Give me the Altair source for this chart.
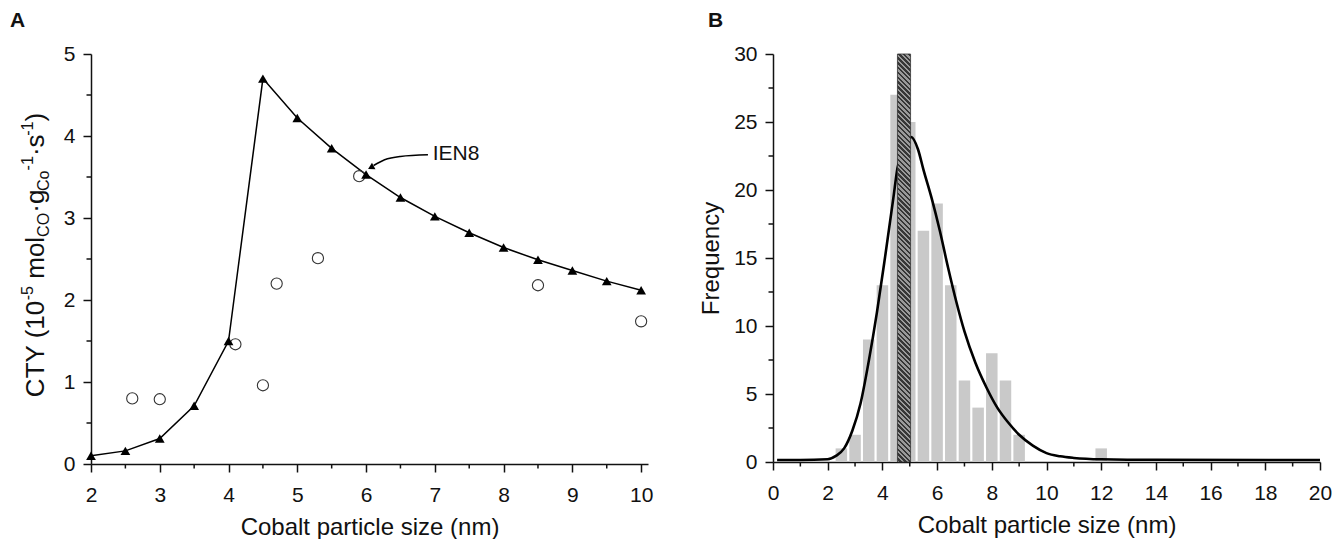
import altair as alt
import pandas as pd

FONT = "Liberation Sans"
INK = "#111111"

# ---------------- Panel A data ----------------
model_size = [2, 2.5, 3, 3.5, 4, 4.5, 5, 5.5, 6, 6.5, 7, 7.5, 8, 8.5, 9, 9.5, 10]
model_cty = [0.10, 0.16, 0.31, 0.71, 1.50, 4.70, 4.22, 3.85, 3.53, 3.25, 3.02,
             2.82, 2.64, 2.49, 2.36, 2.23, 2.12]
exp_size = [2.6, 3.0, 4.1, 4.5, 4.7, 5.3, 5.9, 8.5, 10.0]
exp_cty = [0.80, 0.79, 1.46, 0.96, 2.20, 2.51, 3.51, 2.18, 1.74]

label_text = ["IEN8"]
label_x = [6.97]
label_y = [3.78]
arrow_x = [6.90, 6.50, 6.27, 6.11]
arrow_y = [3.77, 3.75, 3.71, 3.64]
arrow_tip_x = [6.07]
arrow_tip_y = [3.615]

a_x_ticks = [2, 3, 4, 5, 6, 7, 8, 9, 10]
a_x_minor = [2.5, 3.5, 4.5, 5.5, 6.5, 7.5, 8.5, 9.5]
a_y_ticks = [0, 1, 2, 3, 4, 5]
a_y_minor = [0.5, 1.5, 2.5, 3.5, 4.5]

# ---------------- Panel B data ----------------
bin_center = [2.5, 3, 3.5, 4, 4.5, 5, 5.5, 6, 6.5, 7, 7.5, 8, 8.5, 9, 12]
bin_count = [1, 2, 9, 13, 27, 25, 17, 19, 13, 6, 4, 8, 6, 2, 1]
mean_bar_x0 = [4.55]
mean_bar_x1 = [5.03]
mean_bar_top = [30]
fit_size = [0.15, 1, 2.0, 2.3, 2.6, 2.9, 3.2, 3.5, 3.8, 4.1, 4.4, 4.55, 4.8, 5.05,
            5.3, 5.5, 5.8, 6.1, 6.4, 6.7, 7.0, 7.4, 7.8, 8.2, 8.6, 9.0, 9.5, 10,
            10.5, 11, 12, 14, 20]
fit_freq = [0.15, 0.15, 0.2, 0.45, 1.0, 2.3, 4.3, 7.4, 11.0, 15.1, 19.4, 21.6, 23.2,
            23.9, 23.0, 21.5, 19.4, 17.0, 14.3, 11.8, 9.6, 7.3, 5.5, 4.0, 2.9, 2.0,
            1.2, 0.65, 0.42, 0.3, 0.2, 0.16, 0.15]

b_x_ticks = list(range(0, 21, 2))
b_x_minor = list(range(1, 20, 2))
b_y_ticks = [0, 5, 10, 15, 20, 25, 30]
b_y_minor = [2.5, 7.5, 12.5, 17.5, 22.5, 27.5]

# ---------------- sizes ----------------
AW, AH = 557, 410
BW, BH = 547, 408

sa_x = alt.Scale(domain=[2, 10.1], nice=False, zero=False, padding=0)
sa_y = alt.Scale(domain=[0, 5], nice=False, padding=0)
sb_x = alt.Scale(domain=[0, 20], nice=False, padding=0)
sb_y = alt.Scale(domain=[0, 30], nice=False, padding=0)

A_XAX = alt.Axis(values=a_x_ticks, format="d", labelPadding=12, titlePadding=10,
                 title="Cobalt particle size (nm)")
A_YAX = alt.Axis(values=a_y_ticks, format="d", title=None)
B_XAX = alt.Axis(values=b_x_ticks, format="d", labelPadding=12, titlePadding=10,
                 title="Cobalt particle size (nm)")
B_YAX = alt.Axis(values=b_y_ticks, format="d", title="Frequency", titlePadding=10)


def ax(field):
    return alt.X(field, type="quantitative", scale=sa_x, axis=A_XAX)


def ay(field):
    return alt.Y(field, type="quantitative", scale=sa_y, axis=A_YAX)


def bx(field):
    return alt.X(field, type="quantitative", scale=sb_x, axis=B_XAX)


def by(field):
    return alt.Y(field, type="quantitative", scale=sb_y, axis=B_YAX)


# ---------------- Panel A ----------------
df_model = pd.DataFrame({"x": model_size, "y": model_cty})
df_exp = pd.DataFrame({"x": exp_size, "y": exp_cty})

a_line = alt.Chart(df_model).mark_line(color="black", strokeWidth=1.5).encode(
    x=ax("x"), y=ay("y"))
a_tri = alt.Chart(df_model).mark_point(
    shape="triangle-up", filled=True, size=95, color="black", opacity=1
).encode(x=ax("x"), y=ay("y"))
a_circ = alt.Chart(df_exp).mark_point(
    shape="circle", filled=False, size=125, color="#333333", strokeWidth=1.1, opacity=1
).encode(x=ax("x"), y=ay("y"))

a_arrow = alt.Chart(pd.DataFrame({"x": arrow_x, "y": arrow_y})).mark_line(
    color="black", strokeWidth=1.5, interpolate="monotone"
).encode(x=ax("x"), y=ay("y"))
a_head = alt.Chart(pd.DataFrame({"x": arrow_tip_x, "y": arrow_tip_y})).mark_point(
    shape="triangle-up", filled=True, size=55, angle=242, color="black", opacity=1
).encode(x=ax("x"), y=ay("y"))
a_label = alt.Chart(pd.DataFrame({"x": label_x, "y": label_y, "t": label_text})).mark_text(
    align="left", baseline="middle", fontSize=21, font=FONT, color=INK
).encode(x=ax("x"), y=ay("y"), text="t:N")

a_xminor = alt.Chart(pd.DataFrame({"x": a_x_minor})).mark_rule(
    color=INK, strokeWidth=1.5
).encode(x=ax("x"), y=alt.value(AH), y2=alt.value(AH + 4.5))
a_yminor = alt.Chart(pd.DataFrame({"y": a_y_minor})).mark_rule(
    color=INK, strokeWidth=1.5
).encode(y=ay("y"), x=alt.value(0), x2=alt.value(-4.5))

a_letter = alt.Chart(pd.DataFrame({"t": ["A"]})).mark_text(
    align="left", baseline="alphabetic", fontSize=21, fontWeight="bold", font=FONT, color=INK
).encode(text="t:N", x=alt.value(-81), y=alt.value(-27))

# rotated y title with super/subscripts, built from pieces
CW = {"C": 0.722, "T": 0.611, "Y": 0.667, " ": 0.278, "(": 0.333,
      ")": 0.333, "1": 0.556, "0": 0.556, "5": 0.556, "-": 0.333, "m": 0.833,
      "o": 0.556, "l": 0.222, "O": 0.778, "·": 0.278, "g": 0.556, "s": 0.5}
title_segments = ["CTY (10", "-5", "mol", "CO", "·g", "Co", "-1", "·s", "-1", ")"]
title_kinds = ["n", "sup", "n", "sub", "n", "sub", "sup", "n", "sup", "n"]
title_gap_before = [0, 0, 1, 0, 0, 0, 0, 0, 0, 0]  # word space before segment
YT = 26
base_x = -47
sizes = [YT if k == "n" else YT * 0.62 for k in title_kinds]
widths = [sum(CW.get(c, 0.556) for c in s) * f for s, f in zip(title_segments, sizes)]
gaps = [g * CW[" "] * YT for g in title_gap_before]
y_cur = AH / 2 - 4 + (sum(widths) + sum(gaps)) / 2
title_layers = []
for s, k, f, w, g in zip(title_segments, title_kinds, sizes, widths, gaps):
    y_cur -= g
    shift = {"n": 0, "sup": -0.42 * YT, "sub": 0.2 * YT}[k]
    title_layers.append(
        alt.Chart(pd.DataFrame({"t": [s]})).mark_text(
            angle=270, align="left", baseline="alphabetic", fontSize=f, font=FONT, color=INK
        ).encode(text="t:N", x=alt.value(base_x + shift), y=alt.value(y_cur))
    )
    y_cur -= w

panel_a = alt.layer(
    a_line, a_arrow, a_head, a_circ, a_tri, a_label, a_xminor, a_yminor, a_letter,
    *title_layers
).properties(width=AW, height=AH)

# ---------------- Panel B ----------------
df_bins = pd.DataFrame({"x": bin_center, "y": bin_count})
df_fit = pd.DataFrame({"x": fit_size, "y": fit_freq})
df_mean = pd.DataFrame({"x0": mean_bar_x0, "x1": mean_bar_x1, "top": mean_bar_top,
                        "bottom": [0]})

b_bars = alt.Chart(df_bins).mark_bar(color="#c9c9c9", size=11.5).encode(
    x=bx("x"), y=by("y"))
b_fit = alt.Chart(df_fit).mark_line(
    color="black", strokeWidth=2.6, interpolate="monotone"
).encode(x=bx("x"), y=by("y"))

# hatched bar via a striped gradient (diagonal stripes)
mean_w = (mean_bar_x1[0] - mean_bar_x0[0]) / 20 * BW
a_ratio = mean_w / BH
k_len = 1.1
n_stripes = int(85 * k_len)
light, dark = "#9a9a9a", "#363636"
stops = []
p = 1.0 / n_stripes
for k in range(n_stripes):
    o0 = k * p
    o1 = min(1.0, k * p + 0.5 * p)
    o2 = min(1.0, (k + 1) * p)
    stops += [alt.GradientStop(offset=o0, color=light),
              alt.GradientStop(offset=o1, color=light),
              alt.GradientStop(offset=o1, color=dark),
              alt.GradientStop(offset=o2, color=dark)]
hatch = alt.LinearGradient(gradient="linear", stops=stops, x1=0, y1=1,
                           x2=a_ratio * k_len, y2=1 - k_len)

b_mean = alt.Chart(df_mean).mark_rect(fill=hatch, stroke="#333333", strokeWidth=0.8).encode(
    x=bx("x0"), x2="x1", y=by("top"), y2="bottom"
)

b_xminor = alt.Chart(pd.DataFrame({"x": b_x_minor})).mark_rule(
    color=INK, strokeWidth=1.5
).encode(x=bx("x"), y=alt.value(BH), y2=alt.value(BH + 4.5))
b_yminor = alt.Chart(pd.DataFrame({"y": b_y_minor})).mark_rule(
    color=INK, strokeWidth=1.5
).encode(y=by("y"), x=alt.value(0), x2=alt.value(-4.5))

b_letter = alt.Chart(pd.DataFrame({"t": ["B"]})).mark_text(
    align="left", baseline="alphabetic", fontSize=21, fontWeight="bold", font=FONT, color=INK
).encode(text="t:N", x=alt.value(-65), y=alt.value(-27))

panel_b = alt.layer(
    b_bars, b_fit, b_mean, b_xminor, b_yminor, b_letter
).properties(width=BW, height=BH)

chart = alt.hconcat(panel_a, panel_b, spacing=46).properties(
    padding={"left": 2, "top": 2, "right": 0, "bottom": 0}
).configure(font=FONT).configure_view(stroke=None).configure_axis(
    domainColor=INK, domainWidth=1.5, tickColor=INK, tickWidth=1.5, tickSize=8,
    labelFont=FONT, labelFontSize=21, labelColor=INK, labelPadding=8,
    labelFlush=False, titleFont=FONT, titleFontSize=24, titleFontWeight="normal",
    titleColor=INK, grid=False
)

chart.save("out.html", embed_options={"renderer": "svg", "actions": False})
